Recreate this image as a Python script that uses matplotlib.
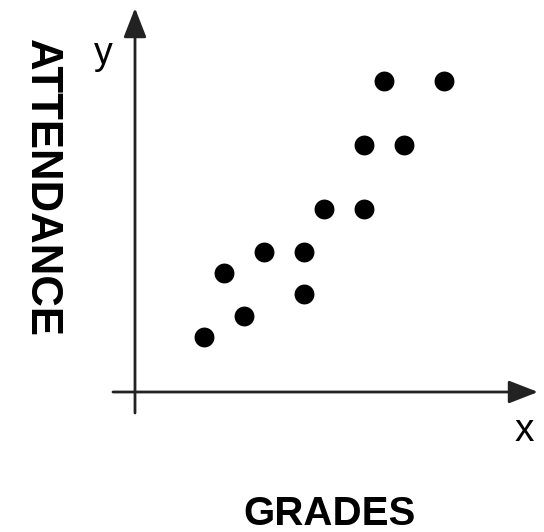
import matplotlib
matplotlib.use("Agg")
import matplotlib.pyplot as plt

# Data (arbitrary units)
grades = [1, 2, 3, 4, 6, 6, 7, 9, 9, 11, 10, 13]
attendance = [1, 4, 2, 5, 5, 3, 7, 7, 10, 10, 13, 13]

x_label = "GRADES"
y_label = "ATTENDANCE"
x_axis_letter = "x"
y_axis_letter = "y"

plt.rcParams['font.family'] = ['Liberation Sans', 'DejaVu Sans']

W, H, DPI = 544, 532, 100
fig = plt.figure(figsize=(W / DPI, H / DPI), dpi=DPI)
ax = fig.add_axes([0, 0, 1, 1])
ax.set_axis_off()

# mapping: pixel = x0 + sx * value
x0, sx = 184.0, 20.0
y0, sy = 358.3, 21.3
ax.set_xlim((0 - x0) / sx, (W - x0) / sx)
ax.set_ylim((y0 - H) / sy, (y0 - 0) / sy)

def px_x(p):
    return (p - x0) / sx

def px_y(p):
    return (y0 - p) / sy

axis_color = "#222222"
# vertical axis with arrow
ax.annotate("", xy=(px_x(135), px_y(8)), xytext=(px_x(135), px_y(413)),
            arrowprops=dict(arrowstyle="-|>,head_length=18,head_width=7",
                            mutation_scale=1, lw=2, color=axis_color,
                            shrinkA=0, shrinkB=0))
# horizontal axis with arrow
ax.annotate("", xy=(px_x(538), px_y(392)), xytext=(px_x(113), px_y(392)),
            arrowprops=dict(arrowstyle="-|>,head_length=18,head_width=7",
                            mutation_scale=1, lw=2, color=axis_color,
                            shrinkA=0, shrinkB=0))

ax.scatter(grades, attendance, s=205, color="black", zorder=3, linewidths=0)

fig.text(103 / W, 1 - 54 / H, y_axis_letter, fontsize=27, ha="center", va="center")
fig.text(524 / W, 1 - 431 / H, x_axis_letter, fontsize=28, ha="center", va="center")
fig.text(330 / W, 1 - 514 / H, x_label, fontsize=29, fontweight="bold",
         ha="center", va="center")
fig.text(41 / W, 1 - 188 / H, y_label, fontsize=31.5, fontweight="bold",
         rotation=270, ha="center", va="center")

fig.savefig("out.png", dpi=DPI)
